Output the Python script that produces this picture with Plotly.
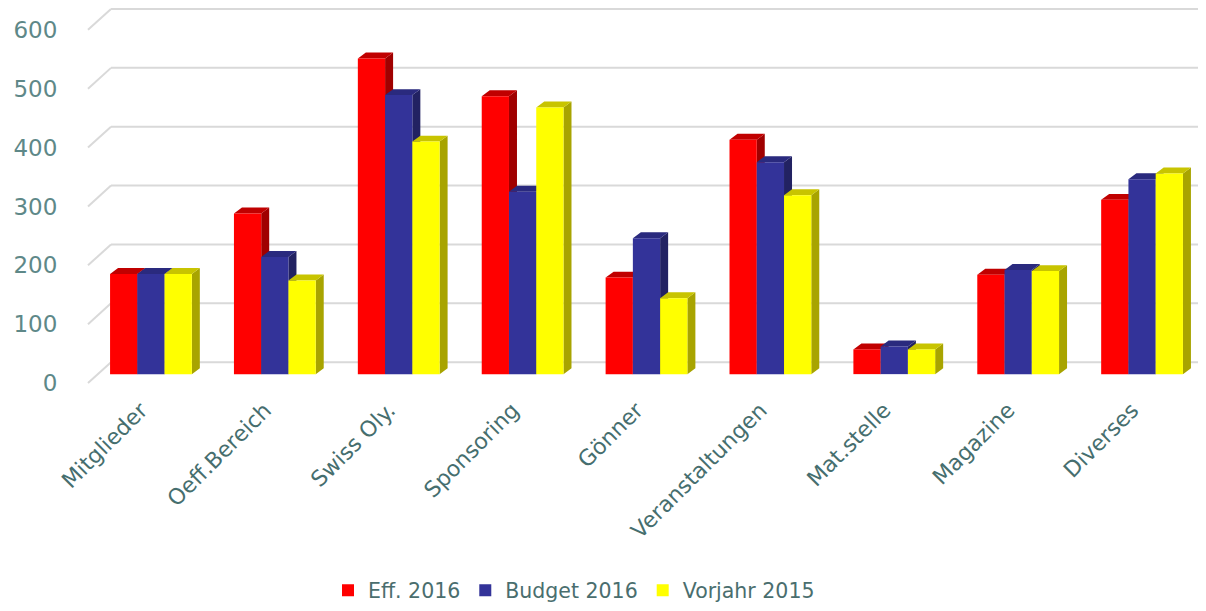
import plotly.graph_objects as go

categories = ["Mitglieder", "Oeff.Bereich", "Swiss Oly.", "Sponsoring", "Gönner",
              "Veranstaltungen", "Mat.stelle", "Magazine", "Diverses"]
series_names = ["Eff. 2016", "Budget 2016", "Vorjahr 2015"]
eff_2016 = [170, 273, 536, 472, 164, 398, 42, 169, 296]
budget_2016 = [170, 199, 474, 310, 231, 360, 47, 177, 331]
vorjahr_2015 = [170, 159, 395, 453, 129, 304, 42, 175, 341]
y_ticks = [0, 100, 200, 300, 400, 500, 600]

series_values = [eff_2016, budget_2016, vorjahr_2015]
front_colors = ["#FF0000", "#333399", "#FFFF00"]
top_colors = ["#C00000", "#2A2A7E", "#C8C400"]
side_colors = ["#A00000", "#222262", "#A8A400"]

# page body has an 8px margin; figure sized to fit the window
W, H = 1198, 603
ML, MR, MT, MB = 81, 2, 0, 216
plot_w = W - ML - MR
plot_h = H - MT - MB
px_per_unit = 356 / 600.0
# bar axis: value 0 sits 18px above plot bottom
bar_r0 = -18 / px_per_unit
bar_range = [bar_r0, bar_r0 + plot_h / px_per_unit]
# label axis: value 0 sits 9px above plot bottom
lab_r0 = -9 / px_per_unit
lab_range = [lab_r0, lab_r0 + plot_h / px_per_unit]
# back wall gridlines sit 21px above the labels
back_shift = 21 / px_per_unit

bar_w = 0.22
group_start = -0.33
ddx = 8 / 123.9   # depth offset in category units
ddy = 6 / px_per_unit  # depth offset in value units

fig = go.Figure()

# 3D side and top faces (base layer)
for s, vals in enumerate(series_values):
    sx, sy, tx, ty = [], [], [], []
    for i, v in enumerate(vals):
        x0 = i + group_start + bar_w * s
        x1 = x0 + bar_w
        sx += [x1, x1, x1 + ddx, x1 + ddx, x1, None]
        sy += [0, v, v + ddy, ddy, 0, None]
        tx += [x0, x1, x1 + ddx, x0 + ddx, x0, None]
        ty += [v, v, v + ddy, v + ddy, v, None]
    fig.add_trace(go.Scatter(x=sx, y=sy, mode="lines", fill="toself",
                             fillcolor=side_colors[s], line=dict(width=0),
                             hoverinfo="skip", showlegend=False,
                             xaxis="x", yaxis="y"))
    fig.add_trace(go.Scatter(x=tx, y=ty, mode="lines", fill="toself",
                             fillcolor=top_colors[s], line=dict(width=0),
                             hoverinfo="skip", showlegend=False,
                             xaxis="x", yaxis="y"))

# front faces (overlay layer)
for s, vals in enumerate(series_values):
    fig.add_trace(go.Bar(
        x=list(range(len(categories))), y=vals, name=series_names[s],
        width=bar_w, offset=group_start + bar_w * s,
        marker=dict(color=front_colors[s], line=dict(width=0)),
        xaxis="x2", yaxis="y2"))

shapes = []
grid_x0 = 22 / plot_w
diag_x0 = -1 / plot_w
grid_x1 = (W - ML) / plot_w
for t in y_ticks:
    shapes.append(dict(type="line", xref="paper", yref="y3",
                       x0=grid_x0, x1=grid_x1,
                       y0=t + back_shift, y1=t + back_shift,
                       line=dict(color="#D9D9D9", width=2), layer="below"))
    shapes.append(dict(type="line", xref="paper", yref="y3",
                       x0=diag_x0, x1=grid_x0,
                       y0=t, y1=t + back_shift,
                       line=dict(color="#D9D9D9", width=2), layer="below"))

xr = [-0.5, len(categories) - 0.5]
tick_shift = -0.08
fig.update_layout(
    width=W, height=H, autosize=False,
    margin=dict(l=ML, r=MR, t=MT, b=MB),
    plot_bgcolor="white", paper_bgcolor="white",
    font=dict(family="DejaVu Sans, Verdana, sans-serif"),
    barmode="overlay",
    shapes=shapes,
    xaxis=dict(range=xr, tickmode="array",
               tickvals=[i + tick_shift for i in range(len(categories))],
               ticktext=categories, tickangle=-45, showgrid=False, zeroline=False,
               showline=False, ticks="", tickfont=dict(size=22, color="#466E6E")),
    xaxis2=dict(range=xr, overlaying="x", visible=False),
    yaxis=dict(range=bar_range, visible=False),
    yaxis2=dict(range=bar_range, overlaying="y", visible=False, anchor="x2"),
    yaxis3=dict(range=lab_range, overlaying="y", anchor="x", side="left",
                tickmode="array", tickvals=y_ticks, showgrid=False, zeroline=False,
                showline=False, ticks="outside", ticklen=26,
                tickcolor="rgba(0,0,0,0)",
                tickfont=dict(size=23, color="#5E8888")),
    legend=dict(orientation="h", x=(566 - ML) / plot_w, xanchor="center",
                y=(plot_h - 587) / plot_h, yanchor="middle",
                font=dict(size=20.5, color="#4A6E6E"),
                traceorder="normal"),
    showlegend=True,
)

fig.write_html("out.html")
